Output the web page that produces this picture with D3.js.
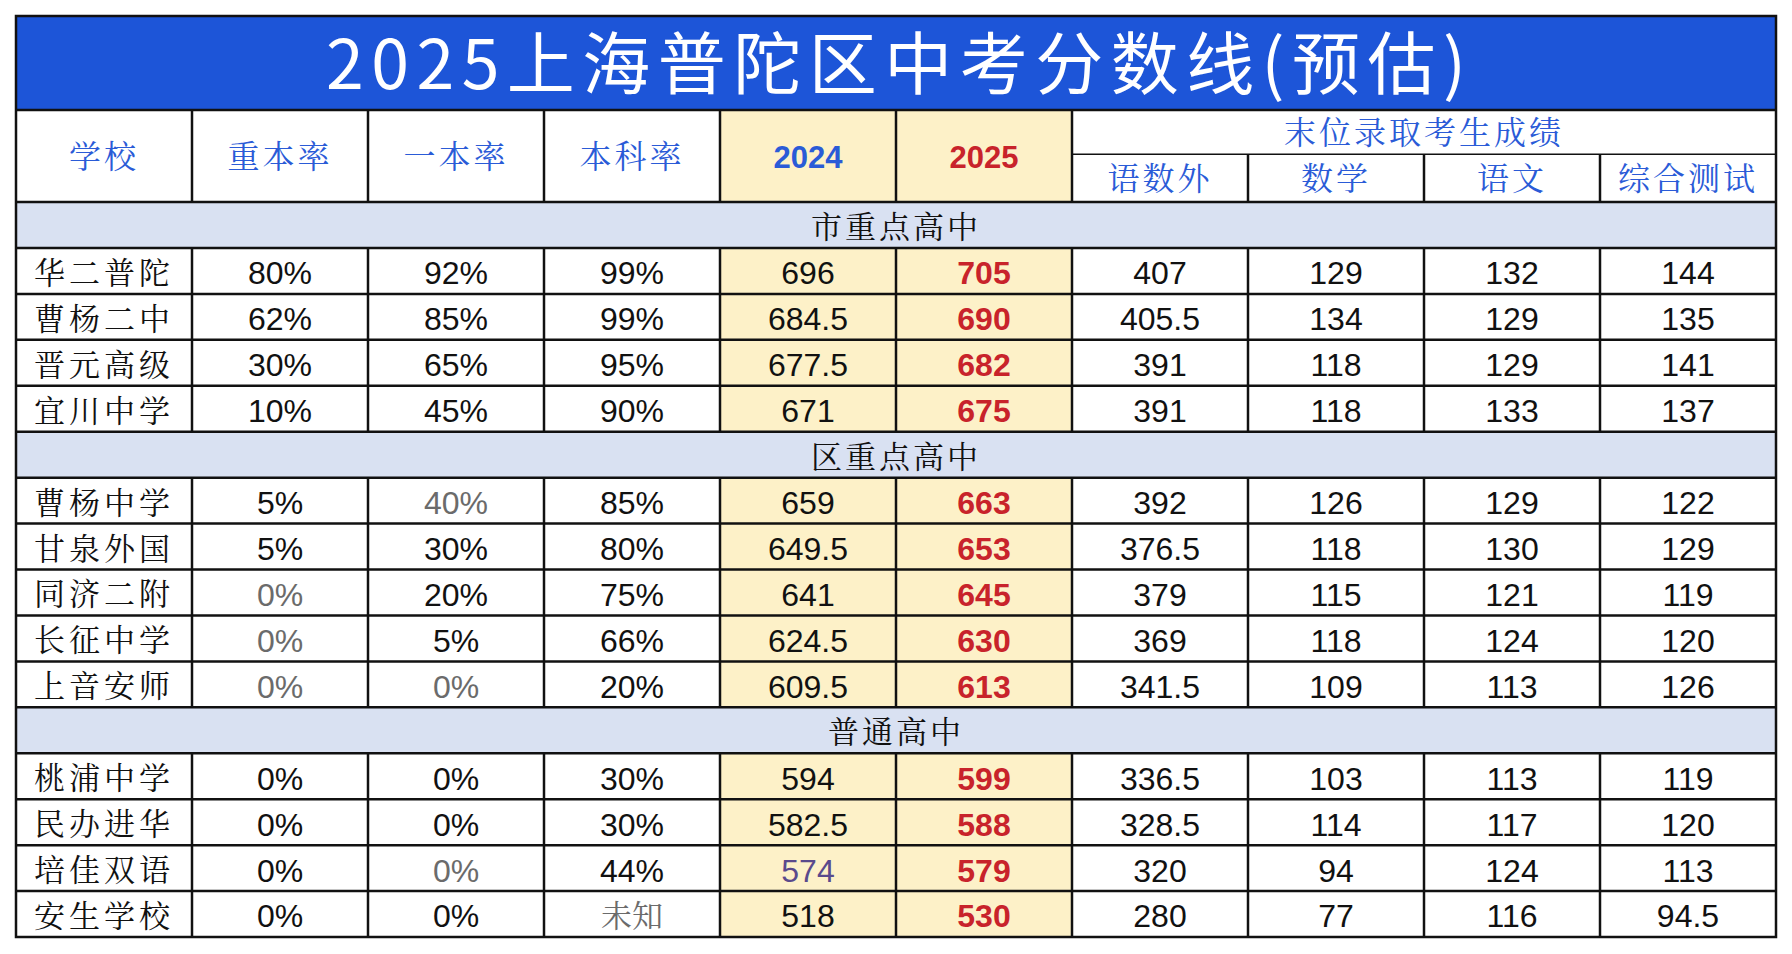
<!DOCTYPE html><html><head><meta charset="utf-8"><script src="https://cdn.jsdelivr.net/npm/d3@7"></script>
<style>body{margin:0;background:#fff}</style></head><body><svg id="c" width="1792" height="954"></svg>
<script>
const title = "2025上海普陀区中考分数线(预估)";
const headers = ["学校","重本率","一本率","本科率","2024","2025"];
const subGroup = "末位录取考生成绩";
const subHeaders = ["语数外","数学","语文","综合测试"];
const sections = ["市重点高中","区重点高中","普通高中"];
const sectionOf = [0,0,0,0,1,1,1,1,1,2,2,2,2];
const schools = ["华二普陀","曹杨二中","晋元高级","宜川中学","曹杨中学","甘泉外国","同济二附","长征中学","上音安师","桃浦中学","民办进华","培佳双语","安生学校"];
const rateKey = ["80%","62%","30%","10%","5%","5%","0%","0%","0%","0%","0%","0%","0%"];
const rateOne = ["92%","85%","65%","45%","40%","30%","20%","5%","0%","0%","0%","0%","0%"];
const rateUni = ["99%","99%","95%","90%","85%","80%","75%","66%","20%","30%","30%","44%","未知"];
const score2024 = ["696","684.5","677.5","671","659","649.5","641","624.5","609.5","594","582.5","574","518"];
const score2025 = ["705","690","682","675","663","653","645","630","613","599","588","579","530"];
const sTotal = ["407","405.5","391","391","392","376.5","379","369","341.5","336.5","328.5","320","280"];
const sMath = ["129","134","118","118","126","118","115","118","109","103","114","94","77"];
const sChinese = ["132","129","129","133","129","130","121","124","113","113","117","124","116"];
const sComp = ["144","135","141","137","122","129","119","120","126","119","120","113","94.5"];
// cells shown in grey in the source: [row, col]
const greyCells = [[6,1],[7,1],[8,1],[4,2],[8,2],[11,2],[12,3]];

const svg = d3.select("#c");
const L=16,R=1776,T=16,TB=110,HB=202,B=937;
const cols = d3.range(10);
const x = d3.scaleBand().domain(cols).range([L,R]);
const rows=[]; let prev=-1;
schools.forEach((s,i)=>{ if(sectionOf[i]!==prev){rows.push({type:"sec",i:sectionOf[i]});prev=sectionOf[i];} rows.push({type:"data",i}); });
const y = d3.scaleBand().domain(d3.range(rows.length)).range([HB,B]);
const cjk = "'Noto Serif CJK SC','Noto Sans CJK SC',serif";
const num = "'Liberation Sans',Arial,sans-serif";

svg.append("rect").attr("x",L).attr("y",T).attr("width",R-L).attr("height",TB-T).attr("fill","#1d55d8");
svg.append("text").attr("x",(L+R)/2).attr("y",(T+TB)/2+8).attr("text-anchor","middle").attr("dominant-baseline","middle")
 .attr("fill","#fff").attr("font-family","'Noto Sans CJK SC',sans-serif").attr("font-size",68).attr("textLength",1140).text(title);
[4,5].forEach(c=>svg.append("rect").attr("x",x(c)).attr("y",TB).attr("width",x.bandwidth()).attr("height",B-TB).attr("fill","#fdf1c8"));
rows.forEach((r,k)=>{ if(r.type==="sec") svg.append("rect").attr("x",L).attr("y",y(k)).attr("width",R-L).attr("height",y.bandwidth()).attr("fill","#d9e1f2"); });

const hmid = (TB+HB)/2+4, hsplit=TB+(HB-TB)*0.48;
headers.forEach((h,c)=>{
  const bold = c>=4;
  svg.append("text").attr("x",x(c)+x.bandwidth()/2).attr("y",hmid).attr("text-anchor","middle").attr("dominant-baseline","middle")
   .attr("font-family",bold?num:cjk).attr("font-weight",bold?"bold":"normal")
   .attr("font-size",bold?31:32).attr("letter-spacing",bold?0:3).attr("fill",c===5?"#c8232b":"#2a5bd7").text(h);
});
svg.append("text").attr("x",(x(6)+R)/2).attr("y",(TB+hsplit)/2+4).attr("text-anchor","middle").attr("dominant-baseline","middle")
  .attr("font-family",cjk).attr("font-size",32).attr("letter-spacing",3).attr("fill","#2a5bd7").text(subGroup);
subHeaders.forEach((h,j)=>svg.append("text").attr("x",x(6+j)+x.bandwidth()/2).attr("y",(hsplit+HB)/2+4).attr("text-anchor","middle").attr("dominant-baseline","middle")
  .attr("font-family",cjk).attr("font-size",32).attr("letter-spacing",3).attr("fill","#2a5bd7").text(h));

const colsData=[schools,rateKey,rateOne,rateUni,score2024,score2025,sTotal,sMath,sChinese,sComp];
rows.forEach((r,k)=>{
  const cy=y(k)+y.bandwidth()/2+5;
  if(r.type==="sec"){
    svg.append("text").attr("x",(L+R)/2).attr("y",cy).attr("text-anchor","middle").attr("dominant-baseline","middle")
     .attr("font-family",cjk).attr("font-size",31).attr("letter-spacing",3).attr("fill","#111").text(sections[r.i]); return;
  }
  colsData.forEach((arr,c)=>{
    const v=arr[r.i]; const isCjk=/[\u4e00-\u9fff]/.test(v);
    let fill="#111"; if(greyCells.some(g=>g[0]===r.i&&g[1]===c)) fill="#6b6b6b";
    if(c===4&&r.i===11) fill="#5a4a8c";
    if(c===5) fill="#c8232b";
    svg.append("text").attr("x",x(c)+x.bandwidth()/2).attr("y",cy).attr("text-anchor","middle").attr("dominant-baseline","middle")
     .attr("font-family",isCjk?cjk:num).attr("font-weight",c===5?"bold":"normal").attr("font-size",isCjk?31:32)
     .attr("letter-spacing",c===0?4:0).attr("fill",fill).text(v);
  });
});

const g=svg.append("g").attr("stroke","#111").attr("stroke-width",2.5);
g.append("rect").attr("x",L).attr("y",T).attr("width",R-L).attr("height",B-T).attr("fill","none");
g.append("line").attr("x1",L).attr("x2",R).attr("y1",TB).attr("y2",TB);
g.append("line").attr("x1",x(6)).attr("x2",R).attr("y1",hsplit).attr("y2",hsplit).attr("stroke-width",1.5);
rows.forEach((r,k)=>g.append("line").attr("x1",L).attr("x2",R).attr("y1",y(k)).attr("y2",y(k)));
cols.slice(1).forEach(c=>{
  const top = c>=7?hsplit:TB;
  rows.forEach((r,k)=>{ if(r.type==="data") g.append("line").attr("x1",x(c)).attr("x2",x(c)).attr("y1",y(k)).attr("y2",y(k)+y.bandwidth()); });
  g.append("line").attr("x1",x(c)).attr("x2",x(c)).attr("y1",top).attr("y2",HB);
});
</script></body></html>
